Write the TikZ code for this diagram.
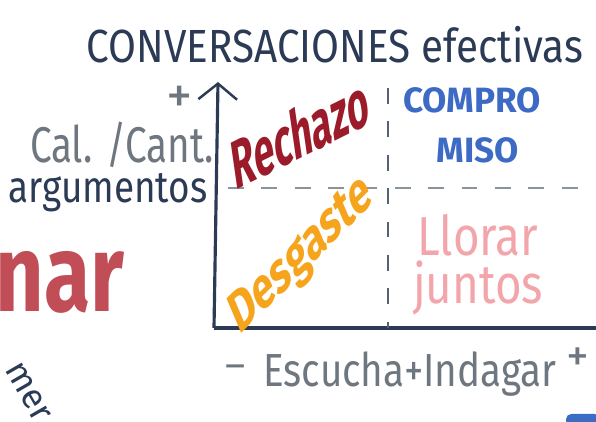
\documentclass[tikz,border=0pt]{standalone}
\usepackage{fontspec}
\setmainfont{Fira Sans}
\usetikzlibrary{positioning}
\usetikzlibrary{arrows.meta}
\definecolor{navy}{HTML}{2B3A55}
\definecolor{pencil}{HTML}{6E7780}
\definecolor{dashgray}{HTML}{8C949B}
\definecolor{rechazored}{HTML}{9B1B2A}
\definecolor{compblue}{HTML}{3D6AC4}
\definecolor{desgorange}{HTML}{F7A41D}
\definecolor{llorarpink}{HTML}{F2A5AB}
\definecolor{narred}{HTML}{C14D57}
\tikzstyle{marker} = [inner sep=0pt, font=\fontsize{20}{20}\selectfont]
\tikzstyle{quadrant} = [marker, font=\bfseries\fontsize{26}{26}\selectfont]
\tikzstyle{axislabel} = [marker, text=pencil, font=\fontsize{22}{22}\selectfont]
\tikzstyle{axis} = [draw=navy, line width=1.8pt]
\tikzstyle{divider} = [draw=dashgray, line width=1.1pt, dash pattern=on 9pt off 10pt]

\begin{document}
\begin{tikzpicture}[x=0.02cm, y=0.02cm]
  \clip (0,0) rectangle (596,422);
  \fill[white] (0,0) rectangle (596,422);

  % title
  \node[marker, text=navy, font=\fontsize{23}{23}\selectfont, yscale=1.15, transform shape] (title) at (335,377) {CONVERSACIONES efectivas};

  % axes
  \coordinate (o) at (214,94);
  \coordinate (ytop) at (218,340);
  \coordinate (xend) at (600,94);
  \draw[axis, -{Straight Barb[length=9pt, width=22pt, line width=1.4pt]}] (o) -- (ytop);
  \draw[axis] (o) -- (xend);

  % quadrant dividers
  \coordinate (hl) at (228,234);
  \coordinate (hr) at (592,234);
  \coordinate (vt) at (388,334);
  \coordinate (vb) at (388,94);
  \path[divider] (hl) -- (hr);
  \path[divider, draw=navy!80] (vt) -- (vb);

  % vertical axis label
  \node[axislabel, font=\fontsize{30}{30}\selectfont] (yplus) at (180,322) {+};
  \node[axislabel, yscale=1.3, transform shape] (cal) at (122,277) {Cal. /Cant.};
  \node[marker, text=navy, font=\fontsize{21}{21}\selectfont, yscale=1.2, transform shape] (arg) at (108,229) {argumentos};

  % horizontal axis label
  \node[axislabel] (xminus) at (236,50) {--};
  \node[axislabel, yscale=1.2, transform shape] (escucha) at (410,48) {Escucha+Indagar};
  \node[axislabel, font=\fontsize{26}{26}\selectfont] (xplus) at (578,62) {+};

  % quadrants
  \node[quadrant, text=rechazored, font=\bfseries\fontsize{28}{28}\selectfont, xscale=0.75, yscale=1.4, rotate=15, transform shape] (rechazo) at (300,290) {Rechazo};
  \node[quadrant, text=compblue, font=\bfseries\fontsize{20}{20}\selectfont] (compro) at (472,322) {COMPRO};
  \node[quadrant, text=compblue, font=\bfseries\fontsize{20}{20}\selectfont] (miso) at (478,272) {MISO};
  \node[quadrant, text=desgorange, xscale=0.85, yscale=1.3, rotate=33, transform shape] (desgaste) at (302,165) {Desgaste};
  \node[quadrant, text=llorarpink, font=\fontsize{26}{26}\selectfont, yscale=1.2, transform shape] (llorar) at (478,187) {Llorar};
  \node[quadrant, text=llorarpink, font=\fontsize{26}{26}\selectfont, yscale=1.2, transform shape] (juntos) at (478,134) {juntos};

  % fragments of the neighbouring sketch
  \node[marker, text=narred, font=\bfseries\fontsize{48}{48}\selectfont, yscale=1.3, transform shape, anchor=east] (nar) at (125,140) {nar};
  \node[marker, text=navy, rotate=-60, transform shape] (mer) at (28,30) {mer};
  \fill[compblue, rounded corners=3pt] (566,-4) rectangle (600,8);
\end{tikzpicture}
\end{document}
